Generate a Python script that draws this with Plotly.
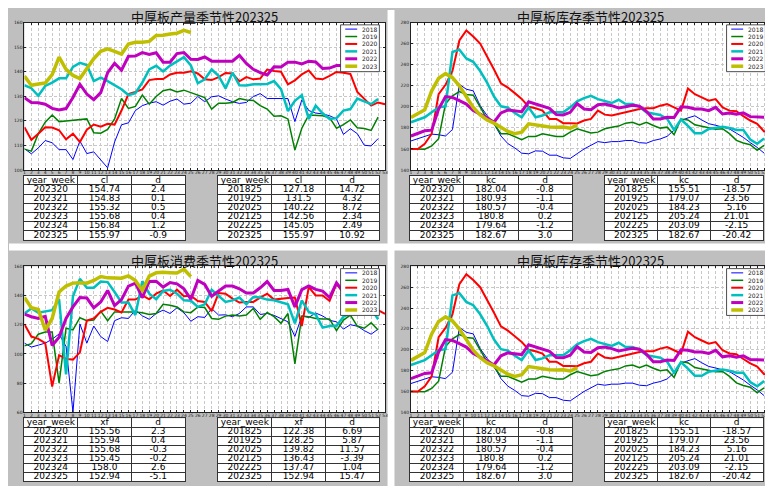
import plotly.graph_objects as go

# ---------------- data ----------------
weeks = list(range(1, 54))
week_labels = [str(w) for w in weeks]
years = ["2018", "2019", "2020", "2021", "2022", "2023"]

# production (cl)
cl_2018 = [108.7, 106.6, 109, 112, 111.1, 108.3, 108.3, 104.3, 111.8, 106.7, 107.4, 104, 100.9, 111.4, 118.4, 119.2, 124.2, 126.2, 127.2, 127.8, 126.4, 128, 128.9, 126.8, 127.18, 129.9, 127.8, 129.8, 130.2, 128.9, 127.8, 127.1, 127.5, 129.9, 131.1, 129.1, 129.1, 128.9, 129.1, 119.7, 128.5, 124.2, 123.2, 122.8, 122.1, 120.8, 114.5, 116.8, 114.8, 110.1, 109.8, 112.8]
cl_2019 = [108.5, 107.7, 114.8, 119.5, 122.4, 119.7, 120, 120.3, 120.8, 120.8, 115.2, 115, 116.5, 120.8, 129.1, 125.1, 125.9, 130.5, 126.8, 129.9, 132.3, 132.9, 131.8, 132.5, 131.5, 130.5, 129.5, 124.8, 127.2, 127.2, 127.5, 129.1, 128.5, 128.3, 126.2, 124.8, 121.9, 122.1, 120.8, 108.1, 117, 122.4, 122.1, 122.1, 121.3, 117, 118.5, 120.4, 117.2, 116.9, 116.1, 121.5]
cl_2020 = [117.4, 112.3, 114.8, 117.4, 117.3, 116.2, 112.5, 114.8, 111.4, 116.4, 118.5, 117.6, 118.8, 118.5, 124.2, 130.9, 131.8, 132.8, 136.6, 137, 137, 138.9, 139.6, 139.6, 140.22, 139.3, 136.9, 136.6, 137.8, 139.5, 139.3, 136.1, 137.8, 136.9, 137.2, 140.9, 140.3, 140, 134.9, 136.5, 138.9, 140.5, 137.2, 136.9, 138.3, 139.9, 139.6, 139.1, 131.8, 129.1, 126.2, 127.5, 126.8]
cl_2021 = [134.5, 133.3, 130.2, 134.2, 135.6, 137.3, 137.3, 142, 143.6, 142.7, 136.2, 137.6, 136.2, 134.6, 132.9, 130.5, 131.3, 135.6, 140.9, 142.4, 140.1, 142.5, 144.3, 145.9, 142.56, 135.3, 136.9, 140.9, 138.3, 133.2, 139.6, 134.5, 134.4, 134.9, 134.9, 135, 136.2, 132.9, 124, 128.2, 130.5, 120.8, 126.2, 123.1, 120.8, 121.1, 124.2, 124.8, 129.1, 127.8, 126.8, 128.9]
cl_2022 = [129.4, 127.5, 127.4, 126.8, 125.1, 124.4, 125, 129.5, 134.9, 130.9, 128.6, 131.5, 139.6, 143.4, 140.6, 146.3, 146.4, 147.8, 147, 147.7, 143.9, 143.9, 147.4, 147.8, 145.05, 145, 146, 144.3, 144.3, 144.4, 144.3, 146.7, 143.4, 141, 139.6, 138.7, 142, 141.9, 143.9, 143.9, 143.2, 144.3, 144, 141.3, 141.5, 142.5, 142.5, 142.5, 142.5, 142.8, 142.5, 140.3]
cl_2023 = [138.2, 134.5, 135, 135.4, 138.8, 145.9, 141, 138.5, 137.2, 141, 145.3, 148.3, 149.3, 148.3, 147.2, 151.3, 152, 152, 152.34, 154.74, 154.83, 155.32, 155.68, 156.84, 155.97]

# inventory (kc)
kc_2018 = [167.6, 169.8, 172.3, 174.1, 173.5, 172.3, 178.5, 221.4, 216.7, 215.2, 201.1, 191.7, 183.9, 172.3, 165.1, 161, 156, 155.4, 158.2, 157.9, 154.1, 154.1, 151.6, 151, 155.51, 160, 163.5, 167, 166, 167, 167, 168, 168, 166, 165.5, 168, 169.5, 172, 178, 187, 189.5, 191.5, 187.5, 184, 182.5, 181, 179, 175, 171, 166, 161.5, 156]
kc_2019 = [160, 160, 159.7, 162.9, 169.8, 203, 210.5, 214.5, 211.7, 211.1, 199.5, 188.5, 183.9, 174.5, 174.5, 171.3, 168.8, 171.9, 171.9, 174.5, 172.9, 171.9, 171.9, 176, 179.07, 177.3, 175.1, 176, 179.2, 180.7, 181.7, 184.5, 185.4, 182.9, 185.4, 182.3, 179.8, 180.7, 173.5, 188.5, 187.6, 182.9, 181.7, 179.8, 178.8, 179.2, 174.5, 168.2, 165.7, 164.1, 158.8, 163.5]
kc_2020 = [160, 160, 165, 174.5, 212, 221, 234, 263, 272.5, 266.8, 260, 248, 235.5, 222.4, 218.3, 213, 207.5, 200, 198.6, 196.4, 188.5, 188.5, 184.5, 184.5, 184.23, 187, 188.5, 196.4, 192.6, 191.7, 193.2, 194.8, 196.4, 197.9, 198.6, 198.6, 201.1, 202.6, 199.5, 196.4, 217.4, 212, 208.9, 205.8, 207.3, 199.5, 196.4, 195.8, 191.1, 187, 183.9, 176.6, 176.6]
kc_2021 = [185.4, 187.6, 190.1, 194.8, 199.5, 200.5, 252.1, 254.3, 245.9, 242.7, 234, 223, 209.8, 200.5, 199.2, 194.2, 190.1, 199.5, 190.1, 191.7, 194.8, 194.8, 194.8, 199.5, 205.24, 208.3, 210.5, 207.3, 205.8, 203.6, 206.7, 202.6, 202.6, 200.1, 194.8, 193.9, 192.3, 188.5, 178, 188, 182, 175, 175, 179, 180, 181, 180, 178, 178, 169, 165, 170]
kc_2022 = [172.3, 174.5, 177.3, 177.9, 197.9, 209.8, 208.9, 205.8, 202.6, 196.4, 193.2, 189.5, 185.4, 194.2, 197, 196.4, 195.4, 204.8, 202.6, 200.5, 198.6, 192.6, 192.3, 194.8, 203.09, 197.9, 197.3, 202, 202.6, 201.1, 198.9, 200.1, 201.4, 200.5, 195.8, 188.5, 188.5, 190.1, 189.8, 200, 199.5, 197.9, 197.9, 196.4, 199.5, 193.2, 194.2, 192.9, 194.2, 190.7, 190.1, 190.1]
kc_2023 = [189.8, 193.2, 197.3, 215.2, 227.1, 231.5, 227.7, 219.9, 208.9, 199.5, 192.3, 187.6, 184.5, 180.7, 176.6, 174.5, 176, 183.9, 182.84, 182.04, 180.93, 180.57, 180.8, 179.64, 182.67]

# consumption (xf)
xf_2018 = [107.4, 104.7, 106, 107.4, 110.1, 113.7, 105.1, 60, 120.5, 107.4, 119.1, 111.9, 108.5, 122.8, 124.8, 124.3, 130, 126.1, 123.7, 127.7, 130, 127.7, 131.6, 128.2, 122.38, 125.5, 125, 131.1, 126.6, 126.8, 125.5, 127.7, 132.2, 132.2, 127, 127.7, 126.4, 124.3, 122, 112, 126, 125, 128, 126, 123, 122, 117, 120, 119, 116, 113.5, 117]
xf_2019 = [105.5, 107, 113.5, 115, 115, 80, 117.6, 116.4, 124.8, 122.8, 123.2, 129.3, 122.8, 128.8, 128.8, 128.8, 128.8, 128.2, 127, 127.7, 134, 133.4, 132.2, 128.8, 128.25, 132.2, 131.8, 124.3, 123.7, 125.9, 126.6, 125.9, 126.6, 131.1, 123.7, 128.4, 125.5, 121, 127.7, 93.2, 125.9, 125.5, 124.3, 123.9, 123.9, 116, 123.2, 126.6, 119.1, 117.6, 121.4, 116.4]
xf_2020 = [120.3, 111.9, 110.3, 107.4, 77.6, 99.1, 96.6, 96.1, 101.1, 122.8, 124.3, 128.8, 131.6, 130.4, 128.4, 137.2, 137.2, 140.1, 137.4, 141.3, 143.5, 139.7, 144, 139.5, 139.82, 136.3, 135.6, 129.3, 141.7, 141.3, 137.9, 135.2, 135.6, 135.6, 138.6, 141.3, 137.2, 137.9, 138.3, 138.6, 119.1, 145.8, 140.1, 140.1, 136.3, 148, 142, 140, 137, 135, 132, 130, 127.5]
xf_2021 = [127.7, 131.1, 128.2, 129.3, 130, 137.4, 86, 139.5, 151.4, 145.3, 145.3, 149.6, 149.2, 142.4, 135.2, 135.2, 126.6, 149.8, 141.3, 137.4, 143.1, 144, 141.3, 136.7, 136.43, 132.2, 134, 144, 139.5, 135.6, 136.7, 138.6, 134, 139, 138.6, 137.2, 136.7, 135.6, 134, 121, 136.7, 128.8, 127, 118, 119.1, 119.1, 125.5, 127.7, 130, 133, 131, 123.7]
xf_2022 = [127.3, 125.5, 124.3, 125.7, 105.8, 111.5, 124.3, 132.2, 138.6, 138.3, 131.6, 135.6, 143.5, 133.1, 137.2, 146.5, 148.5, 138.6, 149.6, 149.8, 145.8, 148.9, 148, 144.6, 137.47, 150.3, 147.6, 139.5, 143.1, 146.5, 146.5, 144.6, 141.7, 141.7, 145.3, 149.6, 143.5, 143.5, 144.2, 132.2, 144, 146.5, 144.2, 143.1, 138.6, 148.7, 142.4, 141, 143, 144, 142, 139]
xf_2023 = [138.6, 131.6, 130.4, 116.4, 124.3, 142.4, 146.5, 148.5, 148.7, 148.5, 150.3, 153, 152.1, 151.9, 151.9, 153.5, 150.3, 143.5, 153.26, 155.56, 155.94, 155.68, 155.45, 158.0, 152.94]

# tables
recent_weeks = ["202320", "202321", "202322", "202323", "202324", "202325"]
yoy_weeks = ["201825", "201925", "202025", "202125", "202225", "202325"]

cl_recent = [154.74, 154.83, 155.32, 155.68, 156.84, 155.97]
cl_recent_d = [2.4, 0.1, 0.5, 0.4, 1.2, -0.9]
cl_yoy = [127.18, 131.5, 140.22, 142.56, 145.05, 155.97]
cl_yoy_d = [14.72, 4.32, 8.72, 2.34, 2.49, 10.92]

kc_recent = [182.04, 180.93, 180.57, 180.8, 179.64, 182.67]
kc_recent_d = [-0.8, -1.1, -0.4, 0.2, -1.2, 3.0]
kc_yoy = [155.51, 179.07, 184.23, 205.24, 203.09, 182.67]
kc_yoy_d = [-18.57, 23.56, 5.16, 21.01, -2.15, -20.42]

xf_recent = [155.56, 155.94, 155.68, 155.45, 158.0, 152.94]
xf_recent_d = [2.3, 0.4, -0.3, -0.2, 2.6, -5.1]
xf_yoy = [122.38, 128.25, 139.82, 136.43, 137.47, 152.94]
xf_yoy_d = [6.69, 5.87, 11.57, -3.39, 1.04, 15.47]

# ---------------- styling / layout ----------------
W, H = 773, 486
colors = ["#0000ff", "#008000", "#ff0000", "#00bfbf", "#bf00bf", "#bfbf00"]
widths = [1, 1.5, 2, 2.5, 3, 3.5]
GRAY = "#bfbfbf"
FONT = "DejaVu Sans"


def px(x):
    return x / W


def py(y):
    return 1 - y / H


panels = [
    dict(title="中厚板产量季节性202325", series=[cl_2018, cl_2019, cl_2020, cl_2021, cl_2022, cl_2023],
         yr=[100, 160], dt=10, x=(15.5, 378), y=(12.7, 161.7), ty=7,
         tables=[("cl", recent_weeks, cl_recent, cl_recent_d, (15, 177)),
                 ("cl", yoy_weeks, cl_yoy, cl_yoy_d, (210, 372))], tby=(167.5, 232.3)),
    dict(title="中厚板库存季节性202325", series=[kc_2018, kc_2019, kc_2020, kc_2021, kc_2022, kc_2023],
         yr=[140, 280], dt=20, x=(404, 766), y=(12.7, 161.7), ty=7,
         tables=[("kc", recent_weeks, kc_recent, kc_recent_d, (403, 566)),
                 ("kc", yoy_weeks, kc_yoy, kc_yoy_d, (599, 758))], tby=(167.5, 232.3)),
    dict(title="中厚板消费季节性202325", series=[xf_2018, xf_2019, xf_2020, xf_2021, xf_2022, xf_2023],
         yr=[60, 160], dt=20, x=(15.5, 378), y=(259, 406.5), ty=253,
         tables=[("xf", recent_weeks, xf_recent, xf_recent_d, (15, 177)),
                 ("xf", yoy_weeks, xf_yoy, xf_yoy_d, (210, 372))], tby=(412.5, 476)),
    dict(title="中厚板库存季节性202325", series=[kc_2018, kc_2019, kc_2020, kc_2021, kc_2022, kc_2023],
         yr=[140, 280], dt=20, x=(404, 766), y=(259, 406.5), ty=253,
         tables=[("kc", recent_weeks, kc_recent, kc_recent_d, (403, 566)),
                 ("kc", yoy_weeks, kc_yoy, kc_yoy_d, (599, 758))], tby=(412.5, 476)),
]

fig = go.Figure()
layout = dict(
    width=W, height=H, autosize=False,
    margin=dict(l=0, r=0, t=0, b=0, pad=0),
    paper_bgcolor=GRAY, plot_bgcolor="white",
    showlegend=False, shapes=[], annotations=[],
    font=dict(family=FONT, color="black"),
)

# white separators between the four panels
for (x0, x1, y0, y1) in [(380.5, 387.5, 0, H), (0, W, 236, 243), (0, W, 482, H)]:
    layout["shapes"].append(dict(type="rect", xref="paper", yref="paper", layer="below",
                                 x0=px(x0), x1=px(x1), y0=py(y1), y1=py(y0),
                                 fillcolor="white", line=dict(width=0)))


def axname(n):
    return "" if n == 1 else str(n)


TICKFONT = dict(size=4.5, family=FONT, color="#222")

table_axis = 5
for i, p in enumerate(panels, start=1):
    a = axname(i)
    for yr, s, col, w in zip(years, p["series"], colors, widths):
        fig.add_trace(go.Scatter(x=weeks[:len(s)], y=s, mode="lines", name=yr,
                                 line=dict(color=col, width=w),
                                 xaxis="x" + a, yaxis="y" + a))
    layout["xaxis" + a] = dict(
        domain=[px(p["x"][0]), px(p["x"][1])], range=[1, 53], anchor="y" + a,
        tickmode="array", tickvals=weeks, ticktext=week_labels, tickangle=0,
        tickfont=TICKFONT, ticklabelstandoff=-2,
        showgrid=True, gridcolor="#c8c8c8", gridwidth=0.7, griddash="3px,2px",
        showline=True, mirror="ticks", linecolor="#222", linewidth=1,
        ticks="inside", ticklen=2, tickcolor="#222", zeroline=False,
    )
    layout["yaxis" + a] = dict(
        domain=[py(p["y"][1]), py(p["y"][0])], range=p["yr"], dtick=p["dt"], anchor="x" + a,
        tickfont=TICKFONT, tickangle=0,
        showgrid=True, gridcolor="#c8c8c8", gridwidth=0.7, griddash="3px,2px",
        showline=True, mirror="ticks", linecolor="#222", linewidth=1,
        ticks="inside", ticklen=2, tickcolor="#222", zeroline=False,
    )
    # title
    layout["annotations"].append(dict(
        text=p["title"], xref="paper", yref="paper", showarrow=False,
        x=px((p["x"][0] + p["x"][1]) / 2), y=py(p["ty"]), xanchor="center", yanchor="middle",
        font=dict(size=13, family="Noto Sans CJK SC", color="#111")))
    # legend (compact, matplotlib style)
    right, top = p["x"][1], p["y"][0]
    layout["shapes"].append(dict(type="rect", xref="paper", yref="paper",
                                 x0=px(right - 44.7), x1=px(right - 5.7),
                                 y0=py(top + 49.6), y1=py(top + 2.3),
                                 fillcolor="white", line=dict(color="#222", width=0.8)))
    for k, (yr, col, w) in enumerate(zip(years, colors, widths)):
        yy = py(top + 6.6 + 7.5 * k)
        layout["shapes"].append(dict(type="line", xref="paper", yref="paper",
                                     x0=px(right - 40), x1=px(right - 28), y0=yy, y1=yy,
                                     line=dict(color=col, width=w)))
        layout["annotations"].append(dict(
            text=yr, xref="paper", yref="paper", showarrow=False,
            x=px(right - 25), y=yy, xanchor="left", yanchor="middle",
            font=dict(size=6, family=FONT, color="#222")))
    # tables
    ty0, ty1 = p["tby"]
    for (vname, wk, vals, ds, (tx0, tx1)) in p["tables"]:
        b = axname(table_axis)
        columns = [["year_week"] + list(wk), [vname] + [str(v) for v in vals], ["d"] + [str(v) for v in ds]]
        xs, ys, tx = [], [], []
        for c, colvals in enumerate(columns):
            for r, t in enumerate(colvals):
                xs.append(c + 0.5)
                ys.append(r + 0.5)
                tx.append(t)
        fig.add_trace(go.Scatter(x=xs, y=ys, text=tx, mode="text", textposition="middle center",
                                 textfont=dict(size=9, family=FONT, color="black"),
                                 hoverinfo="skip", cliponaxis=False,
                                 xaxis="x" + b, yaxis="y" + b))
        layout["xaxis" + b] = dict(
            domain=[px(tx0), px(tx1)], range=[0, 3], anchor="y" + b,
            tickmode="array", tickvals=[1, 2], showticklabels=False, ticks="",
            showgrid=True, gridcolor="#333", gridwidth=1,
            showline=True, mirror=True, linecolor="#333", linewidth=1, zeroline=False,
            fixedrange=True)
        layout["yaxis" + b] = dict(
            domain=[py(ty1), py(ty0)], range=[7, 0], anchor="x" + b,
            tickmode="array", tickvals=[1, 2, 3, 4, 5, 6], showticklabels=False, ticks="",
            showgrid=True, gridcolor="#333", gridwidth=1,
            showline=True, mirror=True, linecolor="#333", linewidth=1, zeroline=False,
            fixedrange=True)
        table_axis += 1

fig.update_layout(**layout)
fig.write_html("out.html")
